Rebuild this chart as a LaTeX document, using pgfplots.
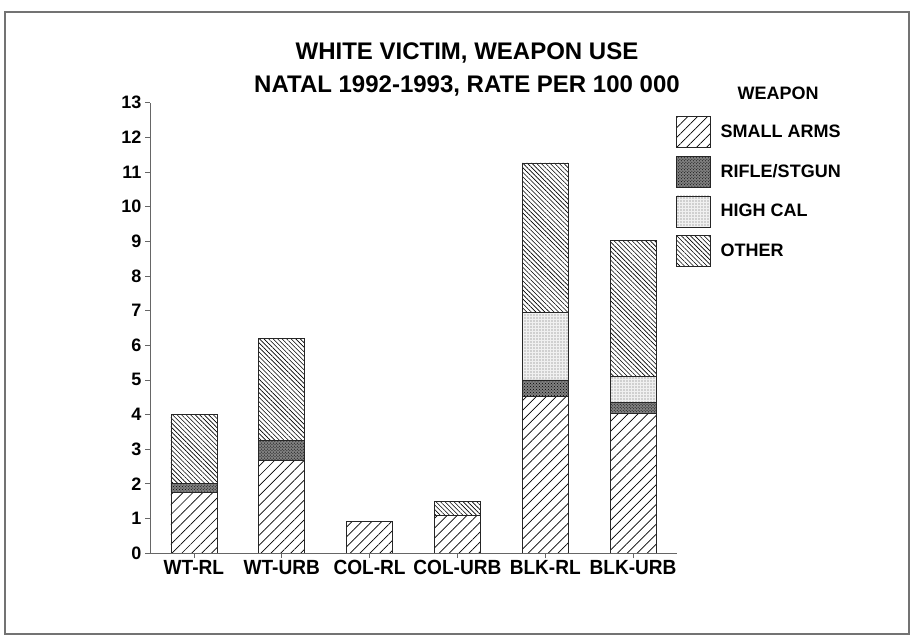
\documentclass[border=0pt]{standalone}
\usepackage{fontspec}
\setmainfont{Liberation Sans}
\newfontfamily\condfont{Liberation Sans}[FakeStretch=0.93]
\usepackage{pgfplots}
\pgfplotsset{compat=1.18}
\usetikzlibrary{patterns,patterns.meta}
\newcommand{\lblfont}{\fontsize{18bp}{20bp}\selectfont\bfseries}
\newcommand{\xlblfont}{\condfont\fontsize{20.5bp}{22bp}\selectfont\bfseries}
\begin{document}
\begin{tikzpicture}
\useasboundingbox (-150bp,-83bp) rectangle (762bp,553bp);
\draw[black!55, line width=1.2bp] (-145bp,-81bp) rectangle (759bp,541bp);
\begin{axis}[
  scale only axis, width=527bp, height=450.3bp,
  xmin=-0.5, xmax=5.5, ymin=0, ymax=13,
  ybar stacked, bar width=46bp,
  axis lines=left, axis line style={-, black!60, line width=0.8bp},
  xtick={0,...,5},
  xticklabels={WT-RL,WT-URB,COL-RL,COL-URB,BLK-RL,BLK-URB},
  ytick={0,...,13},
  tick style={black!60, line width=0.6bp},
  tick align=outside, major tick length=5bp,
  /pgf/number format/assume math mode=true,
  yticklabel style={font=\lblfont},
  xticklabel style={font=\xlblfont, text height=14.5bp, text depth=0pt, inner sep=2bp},
  legend style={at={(axis description cs:0.998,0.970)}, anchor=north west,
    draw=none, fill=none, inner sep=0pt, row sep=8bp,
    font=\lblfont, cells={anchor=west},
    /tikz/every odd column/.append style={column sep=8bp}},
  legend image code/.code={\draw[#1] (0bp,-15.5bp) rectangle (34bp,15.5bp);},
]
\addplot[draw=black!85, line width=0.6bp, pattern={Lines[angle=45,distance=7bp,line width=0.7bp]}, pattern color=black]
  coordinates {(0,1.76) (1,2.67) (2,0.92) (3,1.08) (4,4.52) (5,4.04)};
\addlegendentry{SMALL ARMS}
\addplot[draw=black!85, line width=0.6bp, fill=black!50, postaction={pattern=crosshatch dots, pattern color=black}]
  coordinates {(0,0.26) (1,0.58) (2,0) (3,0) (4,0.48) (5,0.30)};
\addlegendentry{RIFLE/STGUN}
\addplot[draw=black!85, line width=0.6bp, fill=black!6, postaction={pattern={Dots[distance=3bp,radius=0.55bp]}, pattern color=black!60}]
  coordinates {(0,0) (1,0) (2,0) (3,0) (4,1.94) (5,0.76)};
\addlegendentry{HIGH CAL}
\addplot[draw=black!85, line width=0.6bp, pattern={Lines[angle=-45,distance=3.2bp,line width=0.6bp]}, pattern color=black]
  coordinates {(0,1.98) (1,2.95) (2,0) (3,0.40) (4,4.32) (5,3.93)};
\addlegendentry{OTHER}
\end{axis}
\node[font=\fontsize{24bp}{26bp}\selectfont\bfseries] at (317bp,500bp) {WHITE VICTIM, WEAPON USE};
\node[font=\fontsize{24bp}{26bp}\selectfont\bfseries] at (317bp,467bp) {NATAL 1992-1993, RATE PER 100 000};
\node[font=\lblfont] at (628bp,460bp) {WEAPON};
\end{tikzpicture}
\end{document}
